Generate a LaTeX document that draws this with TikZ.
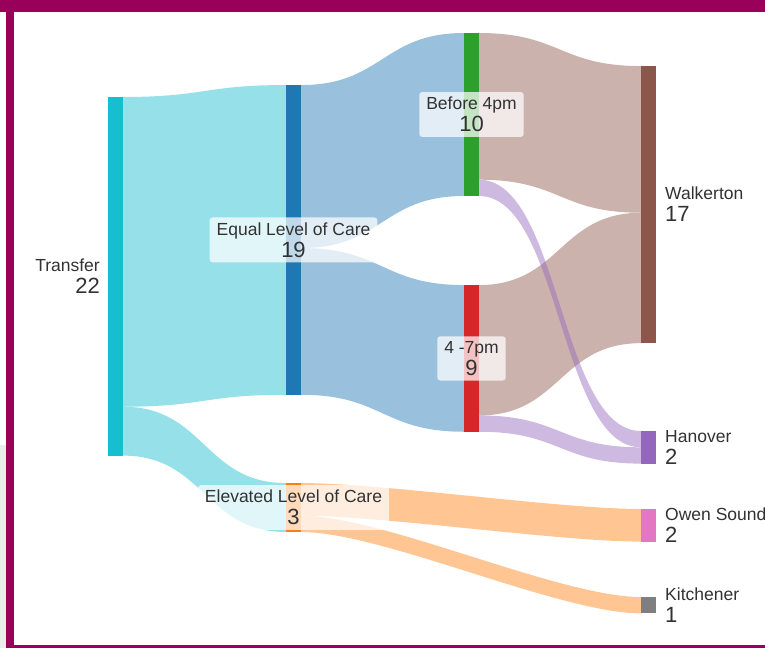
\documentclass[tikz,border=0pt]{standalone}
\usepackage{fontspec}
\setmainfont{Liberation Sans}
\usetikzlibrary{calc,backgrounds}

\pgfdeclarelayer{base}
\pgfsetlayers{base,background,main}

\definecolor{frame}{RGB}{153,0,90}
\definecolor{tcyan}{RGB}{23,190,207}
\definecolor{tblue}{RGB}{31,119,180}
\definecolor{torange}{RGB}{255,127,14}
\definecolor{tgreen}{RGB}{44,160,44}
\definecolor{tred}{RGB}{214,39,40}
\definecolor{tbrown}{RGB}{140,86,75}
\definecolor{tpurple}{RGB}{148,103,189}
\definecolor{tpink}{RGB}{227,119,194}
\definecolor{tgray}{RGB}{127,127,127}
\definecolor{labeltext}{RGB}{50,50,50}

\newcommand{\un}{16.3}
\newcommand{\bend}{81.5}
\newcommand{\namesize}{\fontsize{17.5}{20}\selectfont}
\newcommand{\numsize}{\fontsize{22}{24}\selectfont}

% band from node #1 (offset #2) to node #3 (offset #4), value #5, colour #6
\newcommand{\flow}[6]{%
  \fill[link=#6] ($(#1.north east)+(0,#2*\un)$)
      .. controls +(\bend,0) and +(-\bend,0) .. ($(#3.north west)+(0,#4*\un)$)
      -- ++(0,#5*\un)
      .. controls +(-\bend,0) and +(\bend,0) .. ($(#1.north east)+(0,#2*\un+#5*\un)$)
      -- cycle;}

\begin{document}
\begin{tikzpicture}[x=1pt,
            y=-1pt,
            bar/.style={rectangle, inner sep=0pt, outer sep=0pt,
                        minimum width=15pt, minimum height=#1*\un},
            link/.style={fill=#1, fill opacity=0.45},
            lbl/.style={fill=white, fill opacity=0.72, text opacity=1,
                        rounded corners=3pt, inner xsep=7pt, inner ysep=5pt,
                        align=center, text=labeltext, font=\namesize},
            side/.style={inner sep=0pt, text=labeltext, font=\namesize}]

        \clip (0,0) rectangle (765,648);
        \begin{pgfonlayer}{base}
        \fill[white] (0,0) rectangle (765,648);
        \fill[black!8] (0,445) rectangle (6,648);
        \fill[frame] (0,0) rectangle (765,12);
        \fill[frame] (6,0) rectangle (14,648);
        \fill[frame] (6,645) rectangle (765,648);
        \end{pgfonlayer}

        \node[bar=22, fill=tcyan]   (transfer)  at (115.5,276.3) {};
        \node[bar=19, fill=tblue]   (equal)     at (293.5,239.9) {};
        \node[bar=3,  fill=torange] (elevated)  at (293.5,507.5) {};
        \node[bar=10, fill=tgreen]  (before)    at (471.5,114.5) {};
        \node[bar=9,  fill=tred]    (late)      at (471.5,358.4) {};
        \node[bar=17, fill=tbrown]  (walkerton) at (648.5,204.6) {};
        \node[bar=2,  fill=tpurple] (hanover)   at (648.5,447.3) {};
        \node[bar=2,  fill=tpink]   (owen)      at (648.5,525.3) {};
        \node[bar=1,  fill=tgray]   (kitchener) at (648.5,605.2) {};

        \begin{pgfonlayer}{background}
        \flow{transfer}{0}{equal}{0}{19}{tcyan}
        \flow{transfer}{19}{elevated}{0}{3}{tcyan}
        \flow{equal}{0}{before}{0}{10}{tblue}
        \flow{equal}{10}{late}{0}{9}{tblue}
        \flow{elevated}{0}{owen}{0}{2}{torange}
        \flow{elevated}{2}{kitchener}{0}{1}{torange}
        \flow{before}{0}{walkerton}{0}{9}{tbrown}
        \flow{late}{0}{walkerton}{9}{8}{tbrown}
        \flow{before}{9}{hanover}{0}{1}{tpurple}
        \flow{late}{8}{hanover}{1}{1}{tpurple}
        \end{pgfonlayer}

        \node[side, anchor=east, align=right] (transfer-l) at ($(transfer.west)+(-8,0)$)
            {Transfer\\[2pt]\numsize 22};
        \node[lbl] (equal-l)    at (equal)    {Equal Level of Care\\[2pt]\numsize 19};
        \node[lbl] (elevated-l) at (elevated) {Elevated Level of Care\\[2pt]\numsize 3};
        \node[lbl] (before-l)   at (before)   {Before 4pm\\[2pt]\numsize 10};
        \node[lbl] (late-l)     at (late)     {4 -7pm\\[2pt]\numsize 9};
        \node[side, anchor=west, align=left] (walkerton-l) at ($(walkerton.east)+(9,0)$)
            {Walkerton\\[2pt]\numsize 17};
        \node[side, anchor=west, align=left] (hanover-l)   at ($(hanover.east)+(9,0)$)
            {Hanover\\[2pt]\numsize 2};
        \node[side, anchor=west, align=left] (owen-l)      at ($(owen.east)+(9,0)$)
            {Owen Sound\\[2pt]\numsize 2};
        \node[side, anchor=west, align=left] (kitchener-l) at ($(kitchener.east)+(9,0)$)
            {Kitchener\\[2pt]\numsize 1};

    \end{tikzpicture}
\end{document}
